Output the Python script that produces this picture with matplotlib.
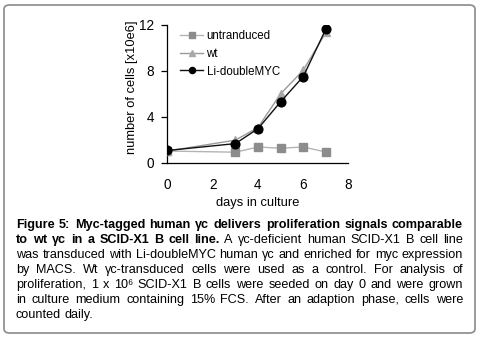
import matplotlib
matplotlib.use("Agg")
import matplotlib.pyplot as plt
from matplotlib.patches import FancyBboxPatch

plt.rcParams['font.family'] = ['Liberation Sans', 'DejaVu Sans']

# ---- data ----
days = [0, 3, 4, 5, 6, 7]
untransduced = [1.0, 0.9, 1.35, 1.25, 1.35, 0.92]
wt = [1.0, 1.95, 3.05, 6.0, 8.05, 11.35]
li_double_myc = [1.05, 1.65, 2.95, 5.3, 7.5, 11.65]
series_labels = ["untranduced", "wt", "Li-doubleMYC"]
x_ticks = [0, 2, 4, 6, 8]
y_ticks = [0, 4, 8, 12]
x_label = "days in culture"
y_label = "number of cells [x10e6]"

caption_lines = [
    [("Figure 5: Myc-tagged human \u03b3c delivers proliferation signals comparable", "bold")],
    [("to wt \u03b3c in a SCID-X1 B cell line.", "bold"), ("A \u03b3c-deficient human SCID-X1 B cell line", "normal")],
    [("was transduced with Li-doubleMYC human \u03b3c and enriched for myc expression", "normal")],
    [("by MACS. Wt \u03b3c-transduced cells were used as a control. For analysis of", "normal")],
    [("proliferation, 1 x 10\u2076 SCID-X1 B cells were seeded on day 0 and were grown", "normal")],
    [("in culture medium containing 15% FCS. After an adaption phase, cells were", "normal")],
    [("counted daily.", "normal")],
]

W, H = 481, 342
fig = plt.figure(figsize=(W / 100, H / 100), dpi=100)

def fx(x):
    return x / W

def fy(y):
    return 1 - y / H

# border box
box = FancyBboxPatch((fx(4), fy(333)), fx(471), (333 - 5) / H,
                     boxstyle="round,pad=0,rounding_size=0.012",
                     transform=fig.transFigure, fill=False,
                     edgecolor="#8a8a8a", linewidth=1.2)
fig.patches.append(box)

# axes
ax = fig.add_axes([fx(167.5), fy(162.5), fx(348.5) - fx(167.5), fy(25) - fy(162.5)])
ax.plot(days, untransduced, color="#b4b4b4", lw=1.0, marker="s", ms=5.5,
        mfc="#8c8c8c", mec="#8c8c8c", label=series_labels[0], zorder=2)
ax.plot(days, wt, color="#9a9a9a", lw=1.0, marker="^", ms=5.5,
        mfc="#a8a8a8", mec="#a8a8a8", label=series_labels[1], zorder=3)
ax.plot(days, li_double_myc, color="#111111", lw=1.0, marker="o", ms=6.3,
        mfc="black", mec="black", label=series_labels[2], zorder=4)

ax.set_xlim(0, 8)
ax.set_ylim(0, 12)
ax.set_xticks(x_ticks)
ax.set_yticks(y_ticks)
for s in ("top", "right"):
    ax.spines[s].set_visible(False)
for s in ("left", "bottom"):
    ax.spines[s].set_linewidth(0.9)
ax.tick_params(axis="x", length=0, pad=11.5, labelsize=9.8)
ax.tick_params(axis="y", length=4.5, width=0.9, pad=5, labelsize=9.8)
ax.patch.set_alpha(0)

ax.set_xlabel(x_label, fontsize=9.3)
ax.set_ylabel(y_label, fontsize=9.3)
ax.xaxis.set_label_coords(fx(257.5), fy(203), transform=fig.transFigure)
ax.xaxis.label.set_va("center")
ax.yaxis.set_label_coords(fx(132), fy(87.5), transform=fig.transFigure)
ax.yaxis.label.set_va("center")

leg = ax.legend(loc="upper left", bbox_to_anchor=(fx(180), fy(30)),
                bbox_transform=fig.transFigure, frameon=False, fontsize=8.3,
                borderpad=0, borderaxespad=0, handlelength=2.0,
                handletextpad=0.3, labelspacing=0.5, markerscale=0.7)

# caption, justified
fig.canvas.draw()
renderer = fig.canvas.get_renderer()
left, right = 16, 463

# fit font size so that line 3 (natural spacing) fills the width
probe = fig.text(0, 0, caption_lines[2][0][0], fontsize=8.0)
pw = probe.get_window_extent(renderer).width
probe.remove()
cap_fs = 8.0 * (right - left - 1) / pw

# baselines placed just under half a pixel above integer rows so that
# per-word descent rounding does not make the words jump
base0, step = 228 - 0.49, 15

for i, line in enumerate(caption_lines):
    words = []
    for seg, weight in line:
        for w in seg.split(" "):
            words.append((w, weight))
    texts = []
    widths = []
    for w, weight in words:
        t = fig.text(0, fy(base0 + i * step), w, fontsize=cap_fs,
                     fontweight=weight, ha="left", va="baseline")
        texts.append(t)
        widths.append(t.get_window_extent(renderer).width)
    last = i == len(caption_lines) - 1
    if last or len(words) == 1:
        gap = cap_fs * 100 / 72 * 0.278
    else:
        gap = (right - left - sum(widths)) / (len(words) - 1)
    x = left
    for t, wd in zip(texts, widths):
        t.set_x(fx(x))
        x += wd + gap

fig.savefig("out.png", dpi=100)
